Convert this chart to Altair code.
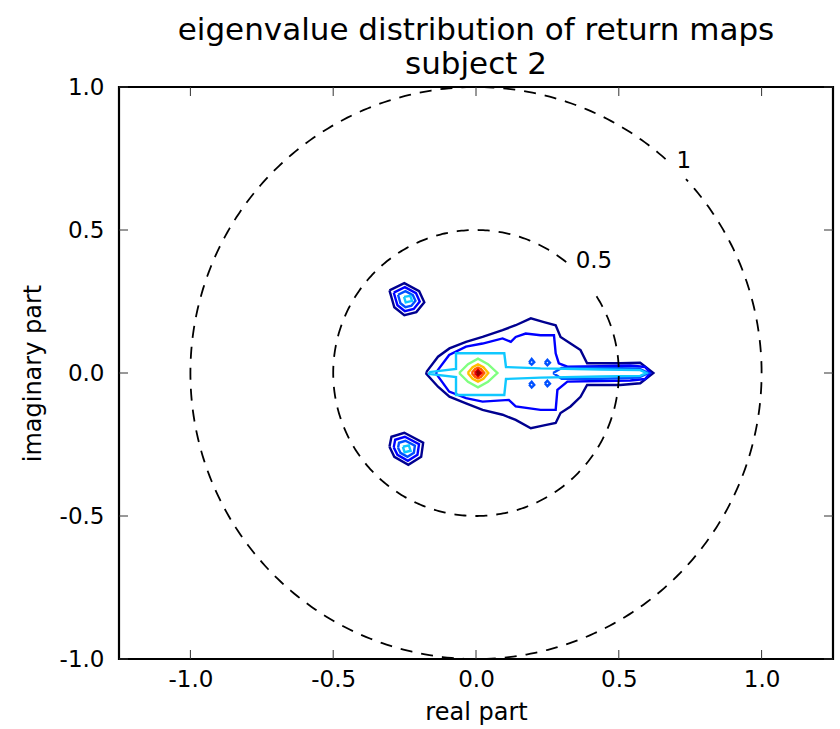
import altair as alt
import numpy as np
import pandas as pd

title_lines = ["eigenvalue distribution of return maps", "subject 2"]
x_title = "real part"
y_title = "imaginary part"
x_ticks = [-1.0, -0.5, 0.0, 0.5, 1.0]
y_ticks = [-1.0, -0.5, 0.0, 0.5, 1.0]
x_domain = [-1.25, 1.25]
y_domain = [-1.0, 1.0]

# dashed |z| = r reference contours and their inline labels
circle_radii = [0.5, 1.0]
circle_labels = ["0.5", "1"]
circle_label_x = [0.413, 0.728]
circle_label_y = [0.390, 0.742]
circle_label_gap = [0.13, 0.05]

level_names = ["L1", "L2", "L3", "L4", "L5", "L6", "L7", "L8", "L9"]
level_colors = ["#000090", "#0000ff", "#0050ff", "#10c8ff", "#80ff80",
                "#ffc000", "#ff6000", "#f00000", "#900000"]

# density contour outlines (level, x, y)
main_l1_x = [-0.174, -0.133, -0.093, -0.035, 0.023, 0.093, 0.139, 0.192, 0.238, 0.279,
             0.296, 0.331, 0.366, 0.389, 0.505, 0.575, 0.621, 0.575, 0.505, 0.389,
             0.366, 0.331, 0.296, 0.279, 0.238, 0.192, 0.139, 0.093, 0.023, -0.035,
             -0.093, -0.133, -0.174]
main_l1_y = [0.003, 0.057, 0.086, 0.109, 0.126, 0.150, 0.167, 0.191, 0.178, 0.167,
             0.126, 0.103, 0.080, 0.034, 0.034, 0.036, 0.0, -0.036, -0.042, -0.042,
             -0.083, -0.117, -0.140, -0.175, -0.183, -0.193, -0.164, -0.146, -0.129, -0.106,
             -0.083, -0.048, -0.003]

main_l2_x = [-0.139, -0.094, -0.035, 0.023, 0.093, 0.122, 0.139, 0.174, 0.226, 0.273,
             0.279, 0.290, 0.320, 0.436, 0.540, 0.592, 0.610, 0.592, 0.540, 0.436,
             0.320, 0.285, 0.279, 0.226, 0.139, 0.115, 0.023, -0.035, -0.094, -0.139]
main_l2_y = [0.003, 0.063, 0.092, 0.103, 0.121, 0.109, 0.126, 0.138, 0.132, 0.132,
             0.069, 0.034, 0.022, 0.024, 0.026, 0.021, 0.0, -0.021, -0.026, -0.028,
             -0.030, -0.059, -0.129, -0.129, -0.117, -0.094, -0.100, -0.088, -0.065, -0.003]

main_l3_x = [0.27, 0.30, 0.44, 0.57, 0.604, 0.57, 0.44, 0.30]
main_l3_y = [0.0, 0.018, 0.018, 0.016, 0.0, -0.016, -0.020, -0.020]

main_l4_x = [-0.164, -0.070, -0.070, 0.099, 0.105, 0.226, 0.436, 0.575, 0.596, 0.575,
             0.436, 0.226, 0.105, 0.099, -0.070, -0.070, -0.164]
main_l4_y = [0.003, 0.014, 0.069, 0.069, 0.021, 0.016, 0.012, 0.010, 0.0, -0.010,
             -0.012, -0.016, -0.021, -0.077, -0.077, -0.014, -0.003]

island_a_x = [0.186, 0.195, 0.204, 0.195]
island_a_y = [0.037, 0.049, 0.038, 0.029]
island_b_x = [0.241, 0.250, 0.259, 0.250]
island_b_y = [0.036, 0.046, 0.036, 0.027]
island_c_x = [0.186, 0.195, 0.204, 0.195]
island_c_y = [-0.040, -0.031, -0.042, -0.051]
island_d_x = [0.241, 0.250, 0.259, 0.250]
island_d_y = [-0.036, -0.027, -0.037, -0.046]

core_l5_x = [-0.059, -0.028, 0.007, 0.042, 0.075, 0.042, 0.007, -0.028]
core_l5_y = [0.0, 0.031, 0.050, 0.031, 0.0, -0.031, -0.050, -0.031]
core_l6_x = [-0.029, -0.012, 0.007, 0.026, 0.043, 0.026, 0.007, -0.012]
core_l6_y = [0.0, 0.020, 0.030, 0.020, 0.0, -0.020, -0.030, -0.020]
core_l7_x = [-0.015, -0.004, 0.007, 0.018, 0.029, 0.018, 0.007, -0.004]
core_l7_y = [0.0, 0.013, 0.019, 0.013, 0.0, -0.013, -0.019, -0.013]
core_l8_x = [-0.005, 0.007, 0.019, 0.007]
core_l8_y = [0.0, 0.011, 0.0, -0.011]
core_l9_x = [0.002, 0.007, 0.012, 0.007]
core_l9_y = [0.0, 0.005, 0.0, -0.005]

up_l1_x = [-0.303, -0.251, -0.199, -0.181, -0.209, -0.251, -0.286]
up_l1_y = [0.289, 0.314, 0.286, 0.247, 0.213, 0.202, 0.230]
up_l2_x = [-0.288, -0.249, -0.210, -0.197, -0.218, -0.249, -0.275]
up_l2_y = [0.281, 0.300, 0.279, 0.250, 0.224, 0.216, 0.237]
up_l3_x = [-0.273, -0.247, -0.221, -0.212, -0.226, -0.247, -0.2645]
up_l3_y = [0.2735, 0.286, 0.272, 0.2525, 0.2355, 0.230, 0.244]
up_l4_x = [-0.252, -0.230, -0.224, -0.246]
up_l4_y = [0.266, 0.270, 0.252, 0.247]

lo_l1_x = [-0.303, -0.296, -0.251, -0.185, -0.192, -0.237, -0.286]
lo_l1_y = [-0.258, -0.223, -0.209, -0.244, -0.293, -0.321, -0.293]
lo_l2_x = [-0.288, -0.283, -0.249, -0.1995, -0.205, -0.2385, -0.275]
lo_l2_y = [-0.260, -0.2335, -0.223, -0.249, -0.286, -0.307, -0.286]
lo_l3_x = [-0.273, -0.2695, -0.247, -0.214, -0.2175, -0.240, -0.2645]
lo_l3_y = [-0.2615, -0.244, -0.237, -0.2545, -0.279, -0.293, -0.279]
lo_l4_x = [-0.256, -0.235, -0.229, -0.250]
lo_l4_y = [-0.258, -0.253, -0.272, -0.277]

paths = [
    ("L1", main_l1_x, main_l1_y), ("L2", main_l2_x, main_l2_y),
    ("L3", main_l3_x, main_l3_y), ("L4", main_l4_x, main_l4_y),
    ("L3", island_a_x, island_a_y), ("L3", island_b_x, island_b_y),
    ("L3", island_c_x, island_c_y), ("L3", island_d_x, island_d_y),
    ("L5", core_l5_x, core_l5_y), ("L6", core_l6_x, core_l6_y),
    ("L7", core_l7_x, core_l7_y), ("L8", core_l8_x, core_l8_y),
    ("L9", core_l9_x, core_l9_y),
    ("L1", up_l1_x, up_l1_y), ("L2", up_l2_x, up_l2_y),
    ("L3", up_l3_x, up_l3_y), ("L4", up_l4_x, up_l4_y),
    ("L1", lo_l1_x, lo_l1_y), ("L2", lo_l2_x, lo_l2_y),
    ("L3", lo_l3_x, lo_l3_y), ("L4", lo_l4_x, lo_l4_y),
]

rows = []
for pid, (lvl, xs, ys) in enumerate(paths):
    xs_c = list(xs) + [xs[0]]
    ys_c = list(ys) + [ys[0]]
    for i, (xv, yv) in enumerate(zip(xs_c, ys_c)):
        rows.append({"path": pid, "level": lvl, "i": i, "x": xv, "y": yv})
contour_df = pd.DataFrame(rows)

# circles, left open where the inline label sits
crow = []
for cid, (r, lx, ly, gap) in enumerate(zip(circle_radii, circle_label_x, circle_label_y, circle_label_gap)):
    a0 = np.arctan2(ly, lx)
    ang = np.linspace(a0 + gap, a0 + 2 * np.pi - gap, 400)
    for i, a in enumerate(ang):
        crow.append({"circ": cid, "i": i, "x": r * np.cos(a), "y": r * np.sin(a)})
circle_df = pd.DataFrame(crow)
label_df = pd.DataFrame({"x": circle_label_x, "y": circle_label_y, "t": circle_labels})

W, H = 714, 572
FONT = "DejaVu Sans"

xs = alt.Scale(domain=x_domain, nice=False, zero=False)
ys = alt.Scale(domain=y_domain, nice=False, zero=False)
lbl = "datum.value < 0 ? '-' + format(-datum.value, '.1f') : format(datum.value, '.1f')"

x_enc = alt.X("x:Q", scale=xs, axis=alt.Axis(
    values=x_ticks, labelExpr=lbl, title=x_title, grid=False, domain=False, ticks=False,
    labelPadding=9, titlePadding=9, labelFontSize=23, titleFontSize=24,
    labelFont=FONT, titleFont=FONT, titleFontWeight="normal",
    labelColor="black", titleColor="black"))
y_enc = alt.Y("y:Q", scale=ys, axis=alt.Axis(
    values=y_ticks, labelExpr=lbl, title=y_title, grid=False, domain=False, ticks=False,
    labelPadding=15, titlePadding=14, labelFontSize=23, titleFontSize=24,
    labelFont=FONT, titleFont=FONT, titleFontWeight="normal",
    labelColor="black", titleColor="black"))

contours = alt.Chart(contour_df).mark_line(strokeWidth=2.4, clip=True).encode(
    x=x_enc, y=y_enc, detail="path:N", order="i:Q",
    color=alt.Color("level:N", scale=alt.Scale(domain=level_names, range=level_colors), legend=None),
)

circles = alt.Chart(circle_df).mark_line(
    color="black", strokeWidth=1.8, strokeDash=[12, 9], clip=True
).encode(x="x:Q", y="y:Q", detail="circ:N", order="i:Q")

labels = alt.Chart(label_df).mark_text(
    font=FONT, fontSize=23, color="black", align="center", baseline="middle"
).encode(x="x:Q", y="y:Q", text="t:N")

xt_df = pd.DataFrame({"x": x_ticks})
yt_df = pd.DataFrame({"y": y_ticks})
TL = 9
tick_style = dict(color="#333333", strokeWidth=1)
xt_bot = alt.Chart(xt_df).mark_rule(**tick_style).encode(x="x:Q", y=alt.value(H), y2=alt.value(H - TL))
xt_top = alt.Chart(xt_df).mark_rule(**tick_style).encode(x="x:Q", y=alt.value(0), y2=alt.value(TL))
yt_l = alt.Chart(yt_df).mark_rule(**tick_style).encode(y="y:Q", x=alt.value(0), x2=alt.value(TL))
yt_r = alt.Chart(yt_df).mark_rule(**tick_style).encode(y="y:Q", x=alt.value(W), x2=alt.value(W - TL))

chart = alt.layer(contours, circles, labels, xt_bot, xt_top, yt_l, yt_r).properties(
    width=W, height=H,
    title=alt.TitleParams(text=title_lines, fontSize=31, font=FONT, fontWeight="normal",
                          anchor="middle", offset=6, dy=11, lineHeight=34, color="black"),
    autosize=alt.AutoSizeParams(type="none"),
    padding={"left": 119, "top": 87, "right": 7, "bottom": 70},
    background="white",
).configure_view(stroke="black", strokeWidth=2.2)

chart.save("out.html", embed_options={"renderer": "svg", "actions": False})
